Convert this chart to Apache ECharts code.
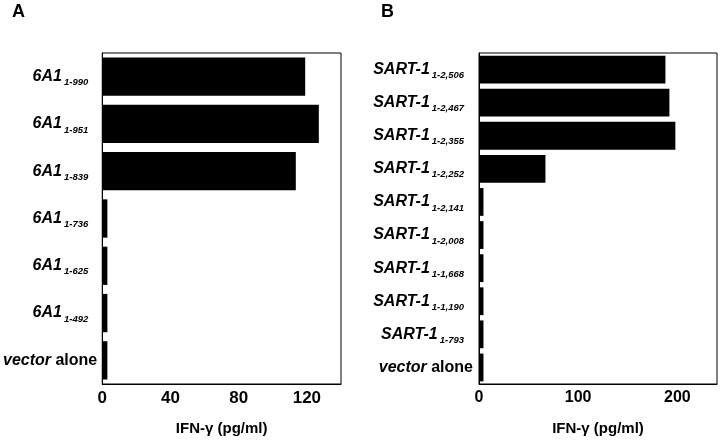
<!DOCTYPE html>
<html>
<head>
<meta charset="utf-8">
<script src="https://cdn.jsdelivr.net/npm/echarts@6/dist/echarts.min.js"></script>
<style>html,body{margin:0;padding:0;background:#fff;}#c{width:720px;height:441px;}</style>
</head>
<body>
<div id="c"></div>
<script>
// Panel A
var mainA = ['6A1', '6A1', '6A1', '6A1', '6A1', '6A1', 'vector'];
var subA = ['1-990', '1-951', '1-839', '1-736', '1-625', '1-492', ''];
var valuesA = [119, 127, 113.5, 3, 3, 3, 3];
var ticksA = [0, 40, 80, 120];
// Panel B
var mainB = ['SART-1', 'SART-1', 'SART-1', 'SART-1', 'SART-1', 'SART-1', 'SART-1', 'SART-1', 'SART-1', 'vector'];
var subB = ['1-2,506', '1-2,467', '1-2,355', '1-2,252', '1-2,141', '1-2,008', '1-1,668', '1-1,190', '1-793', ''];
var valuesB = [188, 192, 198, 67, 4.5, 4.5, 4.5, 4.5, 4.5, 4.5];
var ticksB = [0, 100, 200];
var axisName = 'IFN-γ (pg/ml)';

var FONT = '"Liberation Sans", Arial, sans-serif';

function labelFmt(mains, subs) {
  return function (v, i) {
    if (mains[i] === 'vector') return '{vi|vector}{vb| alone}';
    return '{m|' + mains[i] + '}{s|' + subs[i] + '}';
  };
}
var rich = {
  m: { fontFamily: FONT, fontSize: 16, fontWeight: 'bold', fontStyle: 'italic', color: '#000', lineHeight: 20 },
  s: { fontFamily: FONT, fontSize: 9.5, fontWeight: 'bold', fontStyle: 'italic', color: '#000', padding: [12, 9, 0, 2], lineHeight: 20 },
  vi: { fontFamily: FONT, fontSize: 16, fontWeight: 'bold', fontStyle: 'italic', color: '#000' },
  vb: { fontFamily: FONT, fontSize: 16, fontWeight: 'bold', color: '#000' }
};

function xAxis(gi, max, interval, ticks, fs) {
  return {
    type: 'value', gridIndex: gi, min: 0, max: max, interval: interval,
    axisLine: { show: true, lineStyle: { color: '#000', width: 1 } },
    axisTick: { show: false }, splitLine: { show: false },
    axisLabel: {
      margin: 6, color: '#000', fontFamily: FONT, fontWeight: 'bold', fontSize: fs,
      formatter: function (v) { return ticks.indexOf(v) >= 0 ? String(v) : ''; }
    },
    name: axisName, nameLocation: 'middle', nameGap: 37,
    nameTextStyle: { color: '#000', fontFamily: FONT, fontWeight: 'bold', fontSize: 15 }
  };
}
function yAxis(gi, mains, subs, margin) {
  return {
    type: 'category', gridIndex: gi, inverse: true, data: subs.map(function (s, i) { return mains[i] + s; }),
    axisLine: { show: true, lineStyle: { color: '#000', width: 1 } },
    axisTick: { show: false },
    axisLabel: { margin: margin, formatter: labelFmt(mains, subs), rich: rich, interval: 0 }
  };
}

var chart = echarts.init(document.getElementById('c'), null, { renderer: 'canvas' });
chart.setOption({
  animation: false,
  backgroundColor: '#fff',
  title: [
    { text: 'A', left: 7, top: -2, textStyle: { fontFamily: FONT, fontWeight: 'bold', fontSize: 18, color: '#000' } },
    { text: 'B', left: 376, top: -2, textStyle: { fontFamily: FONT, fontWeight: 'bold', fontSize: 18, color: '#000' } }
  ],
  grid: [
    { left: 102, right: 379, top: 53, bottom: 56, show: true, borderColor: '#000', borderWidth: 1, backgroundColor: '#fff' },
    { left: 479, right: 2, top: 53, bottom: 54, show: true, borderColor: '#000', borderWidth: 1, backgroundColor: '#fff' }
  ],
  xAxis: [xAxis(0, 140, 20, ticksA, 17), xAxis(1, 240, 20, ticksB, 16)],
  yAxis: [yAxis(0, mainA, subA, 5), yAxis(1, mainB, subB, 6)],
  series: [
    { type: 'bar', xAxisIndex: 0, yAxisIndex: 0, data: valuesA, barCategoryGap: '19%', itemStyle: { color: '#000' } },
    { type: 'bar', xAxisIndex: 1, yAxisIndex: 1, data: valuesB, barCategoryGap: '16%', itemStyle: { color: '#000' } }
  ]
});
</script>
</body>
</html>
